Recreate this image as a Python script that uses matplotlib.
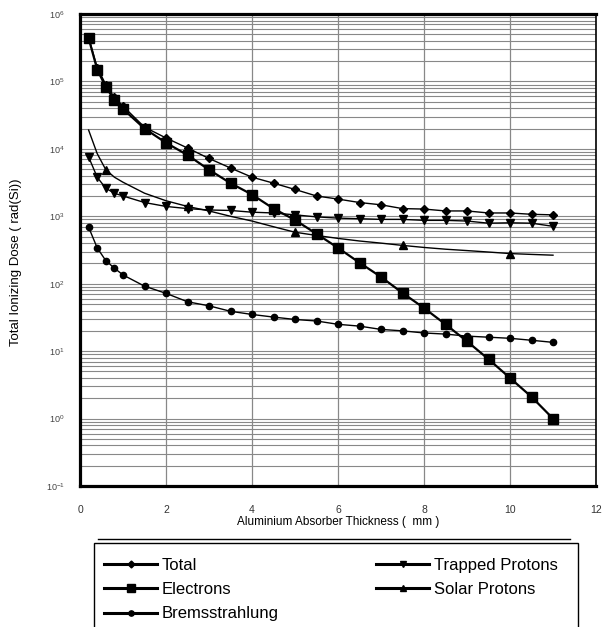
import matplotlib
matplotlib.use("Agg")
import matplotlib.pyplot as plt
from matplotlib.lines import Line2D
from matplotlib.patches import Rectangle

# aluminium thickness (mm)
thickness = [0.2, 0.4, 0.6, 0.8, 1.0, 1.5, 2.0, 2.5, 3.0, 3.5, 4.0, 4.5, 5.0,
             5.5, 6.0, 6.5, 7.0, 7.5, 8.0, 8.5, 9.0, 9.5, 10.0, 10.5, 11.0]

total = [4.5e5, 1.6e5, 9.0e4, 5.8e4, 4.3e4, 2.1e4, 1.45e4, 1.03e4, 7.2e3, 5.2e3,
         3.8e3, 3.1e3, 2.5e3, 2.0e3, 1.8e3, 1.6e3, 1.48e3, 1.3e3, 1.28e3, 1.2e3,
         1.2e3, 1.12e3, 1.12e3, 1.07e3, 1.05e3]

electrons = [4.4e5, 1.5e5, 8.3e4, 5.3e4, 3.9e4, 2.0e4, 1.23e4, 8.1e3, 4.9e3, 3.1e3,
             2.1e3, 1.3e3, 880, 550, 340, 205, 126, 73, 43.6, 25,
             14, 7.6, 4.0, 2.1, 1.0]

trapped = [7.6e3, 3.8e3, 2.6e3, 2.2e3, 2.0e3, 1.6e3, 1.4e3, 1.3e3, 1.24e3, 1.22e3,
           1.15e3, 1.12e3, 1.05e3, 980, 940, 920, 900, 900, 870, 870,
           850, 790, 800, 790, 710]

solar = [1.9e4, 8.5e3, 4.9e3, 3.8e3, 3.2e3, 2.2e3, 1.7e3, 1.4e3, 1.2e3, 1.0e3,
         850, 700, 580, 520, 470, 430, 400, 370, 345, 325,
         310, 295, 280, 272, 265]
solar_marks = [2, 7, 12, 17, 22]

brems = [690, 340, 220, 170, 135, 92, 72, 54, 47, 39,
         35, 32, 29.5, 28, 25, 23.5, 21, 20, 18.6, 17.9,
         16.7, 16.1, 15.5, 14.5, 13.5]

ytick_exp = [-1, 0, 1, 2, 3, 4, 5, 6]
xticks = [0, 2, 4, 6, 8, 10, 12]

plt.rcParams["font.family"] = ["Liberation Sans", "DejaVu Sans"]
plt.rcParams["mathtext.default"] = "regular"

W, H = 605, 627
fig = plt.figure(figsize=(W / 100, H / 100), dpi=100)
ax = fig.add_axes([80 / W, 1 - 486 / H, 516 / W, 472 / H])

ax.plot(thickness, total, color="black", lw=1.0, marker="D", ms=4.2, label="Total")
ax.plot(thickness, electrons, color="black", lw=1.6, marker="s", ms=6.5, label="Electrons")
ax.plot(thickness, brems, color="black", lw=1.0, marker="o", ms=4.5, label="Bremsstrahlung")
ax.plot(thickness, trapped, color="black", lw=1.0, marker="v", ms=5.5, label="Trapped Protons")
ax.plot(thickness, solar, color="black", lw=1.0, marker="^", ms=5.5,
        markevery=solar_marks, label="Solar Protons")

ax.set_yscale("log")
ax.set_ylim(0.1, 1e6)
ax.set_xlim(0, 12)
ax.set_xticks(xticks)
ax.set_xticklabels([str(x) for x in xticks], fontsize=7.5, color="#333333")
ax.set_yticks([10.0 ** e for e in ytick_exp])
ax.set_yticklabels(["$10^{%d}$" % e for e in ytick_exp], fontsize=6.5, color="#444444")
ax.tick_params(axis="both", which="both", length=0)
ax.tick_params(axis="x", pad=14)
ax.tick_params(axis="y", pad=11)

ax.grid(True, which="major", axis="x", color="#888888", lw=0.9)
ax.grid(True, which="both", axis="y", color="#888888", lw=0.8)
ax.set_axisbelow(True)

for side in ["left", "top", "bottom"]:
    ax.spines[side].set_linewidth(2.3)
ax.spines["right"].set_linewidth(1.2)

ax.set_xlabel("Aluminium Absorber Thickness (  mm )", fontsize=8.5, labelpad=0.5)
ax.set_ylabel("Total Ionizing Dose ( rad(Si))", fontsize=9.5)
ax.yaxis.set_label_coords(-0.112, 0.475)

# rule and open-bottom box around the legend
fig.add_artist(Line2D([98 / W, 570 / W], [1 - 539 / H] * 2, color="black", lw=1.0))
fig.add_artist(Rectangle((94 / W, -0.02), 484 / W, 1 - 543 / H + 0.02,
                         fill=False, edgecolor="black", lw=1.0))

handles, labels = ax.get_legend_handles_labels()
leg = fig.legend(handles, labels, ncol=2, loc="upper left",
                 bbox_to_anchor=(104 / W, 1 - 558 / H), frameon=False,
                 fontsize=12, handlelength=3.2, handletextpad=0.25,
                 columnspacing=5.85, labelspacing=0.55, borderpad=0, borderaxespad=0)
for line, ms in zip(leg.get_lines(), [3.5, 5.5, 3.8, 4.5, 4.5]):
    line.set_linewidth(2.2)
    line.set_markersize(ms)

fig.savefig("out.png", dpi=100)
